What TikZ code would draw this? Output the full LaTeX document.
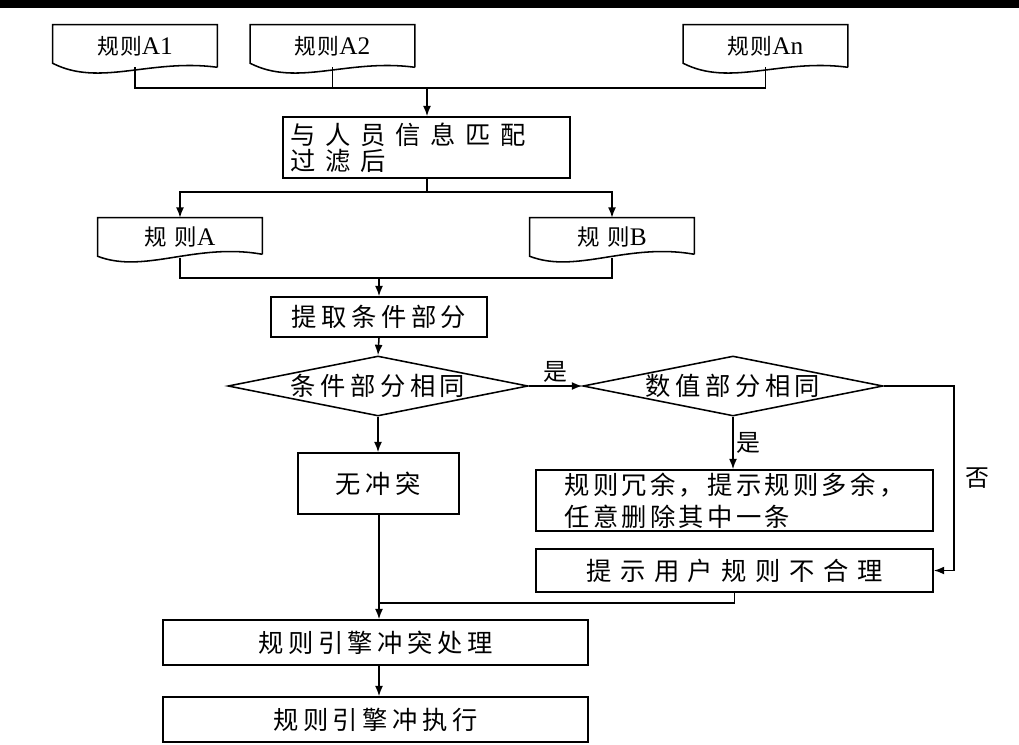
\documentclass[tikz,border=0pt]{standalone}
\usepackage{fontspec}
\setmainfont{Liberation Serif}
\newfontfamily\cjk{Noto Sans CJK SC}
\newcommand{\latn}[1]{{\rmfamily\fontsize{18}{20}\selectfont #1}}
\usetikzlibrary{arrows.meta, shapes.geometric, calc}

\tikzset{
  flow/.style={line width=1.1pt},
  arr/.style={flow, -{Latex[length=2.6mm, width=2mm]}},
  box/.style={draw, line width=1.1pt, inner sep=0pt, align=center,
    font={\cjk\fontsize{18}{20}\selectfont\addfontfeature{LetterSpace=18}}},
  doc/.style={inner sep=0pt, minimum width=4.1cm, minimum height=1.05cm,
    font={\cjk\fontsize{15.5}{17}\selectfont\addfontfeature{LetterSpace=5}}},
  dia/.style={diamond, draw, line width=1.1pt, aspect=5, inner sep=0pt,
    minimum width=7.5cm, minimum height=1.5cm,
    font={\cjk\fontsize{18}{20}\selectfont\addfontfeature{LetterSpace=18}}},
  lbl/.style={inner sep=2pt, font={\cjk\fontsize{17}{19}\selectfont}},
}

\begin{document}
\begin{tikzpicture}[x=0.025cm, y=-0.025cm]
  \useasboundingbox (0,0) rectangle (1019,744);
  \fill[black] (0,0) rectangle (1019,8);

  % rule sources
  \node[doc] (a1) at (135,46) {规则\latn{A1}};
  \node[doc] (a2) at (332.5,46) {规则\latn{A2}};
  \node[doc] (an) at (765.5,46) {规则\latn{An}};
  \node[box, minimum width=7.175cm, minimum height=1.525cm, text width=6.8cm, align=left,
    font={\cjk\fontsize{18}{18.4}\selectfont\addfontfeature{LetterSpace=38}}] (match) at (426.5,147.5)
    {与人员信息匹配\\过滤后};
  \node[doc, font={\cjk\fontsize{16}{17}\selectfont\addfontfeature{LetterSpace=33}}] (ruleA) at (180,237) {规则\latn{A}};
  \node[doc, font={\cjk\fontsize{16}{17}\selectfont\addfontfeature{LetterSpace=33}}] (ruleB) at (612,237) {规则\latn{B}};
  \foreach \n in {a1,a2,an}
    \draw[flow] (\n.south east) -- (\n.north east) -- (\n.north west) -- ($(\n.south west)+(0,-4)$)
      .. controls ($(\n.south west)+(47,20)$) and ($(\n.south east)+(-67,-9)$) .. (\n.south east);
  \foreach \n in {ruleA,ruleB}
    \draw[flow] ($(\n.south east)+(0,-4)$) -- ($(\n.north east)+(0,2)$) -- ($(\n.north west)+(0,2)$) -- ($(\n.south west)+(0,-2)$)
      .. controls ($(\n.south west)+(47,16)$) and ($(\n.south east)+(-67,-16)$) .. ($(\n.south east)+(0,-4)$);

  % checks
  \node[box, minimum width=5.4cm, minimum height=1cm] (extract) at (379,317) {提取条件部分};
  \node[dia] (cond) at (378,386) {条件部分相同};
  \node[dia] (value) at (733,386) {数值部分相同};
  \node[box, minimum width=4.025cm, minimum height=1.525cm] (noconf) at (378.5,483.5) {无冲突};
  \node[box, minimum width=9.925cm, minimum height=1.525cm, align=left,
    font={\cjk\fontsize{18}{22.7}\selectfont\addfontfeature{LetterSpace=13}}] (redund) at (734.5,500.5)
    {规则冗余，提示规则多余，\\任意删除其中一条};
  \node[box, minimum width=9.925cm, minimum height=1.075cm,
    font={\cjk\fontsize{18}{20}\selectfont\addfontfeature{LetterSpace=34}}] (warn) at (734.5,570.5) {提示用户规则不合理};
  \node[box, minimum width=10.625cm, minimum height=1.125cm] (handle) at (375.5,642.5) {规则引擎冲突处理};
  \node[box, minimum width=10.625cm, minimum height=1.125cm] (exec) at (375.5,719.5) {规则引擎冲执行};

  % joints
  \coordinate (jtop) at (427,88);
  \coordinate (jmid) at (427,192);
  \coordinate (jlow) at (379,278);
  \coordinate (jbot) at (379,603);

  \draw[flow] (a1.south) |- (jtop) -| (an.south);
  \draw[flow] (a2.south) -- (a2.south |- jtop);
  \draw[arr] (jtop) -- (match.north -| jtop);
  \draw[flow] (match.south -| jmid) -- (jmid);
  \draw[arr] (jmid) -| ($(ruleA.north)+(0,2)$);
  \draw[arr] (jmid) -| ($(ruleB.north)+(0,2)$);
  \draw[flow] (ruleA.south) |- (jlow) -| (ruleB.south);
  \draw[arr] (jlow) -- (extract.north -| jlow);
  \draw[arr] (extract.south) -- (cond.north);
  \draw[arr] (cond.east) -- node[lbl, above] {是} (value.west);
  \draw[arr] (cond.south) -- (noconf.north -| cond.south);
  \draw[arr] (value.south) -- node[lbl, right] {是} (redund.north -| value.south);
  \draw[arr] (value.east) -- ++(70,0) |- node[lbl, right, pos=0.25, xshift=6pt] {否} (warn.east);
  \draw[flow] (noconf.south -| jbot) -- (jbot);
  \draw[flow] (warn.south) |- (jbot);
  \draw[arr] (jbot) -- (handle.north -| jbot);
  \draw[arr] (handle.south -| jbot) -- (exec.north -| jbot);
\end{tikzpicture}
\end{document}
